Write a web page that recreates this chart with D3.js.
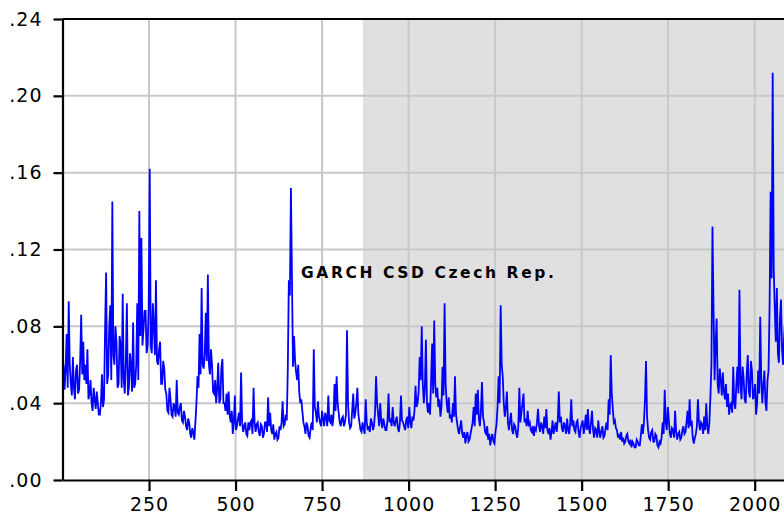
<!DOCTYPE html>
<html>
<head>
<meta charset="utf-8">
<script src="https://cdn.jsdelivr.net/npm/d3@7"></script>
<style>
  body { margin: 0; background: #fff; }
  .garch_chart text { font-family: "DejaVu Sans", Verdana, sans-serif; fill: #000; }
</style>
</head>
<body>
<div class="garch_chart"></div>
<script>
// observation spacing of the sampled series (observations per point)
const obsStep = 3;

const csdValues = [
  .052,.060,.047,.058,.076,.048,.093,.060,.050,.044,.064,.048,.042,.057,.060,.045,.047,.062,.086,.055,
  .072,.052,.060,.050,.068,.042,.045,.052,.040,.036,.048,.042,.037,.046,.040,.034,.034,.040,.055,.038,
  .042,.078,.108,.050,.055,.080,.091,.052,.145,.065,.060,.080,.072,.048,.050,.075,.070,.048,.097,.052,
  .045,.062,.092,.044,.048,.066,.060,.046,.082,.048,.050,.060,.092,.052,.140,.075,.126,.070,.078,.088,
  .088,.066,.070,.090,.162,.070,.066,.092,.080,.065,.104,.062,.060,.068,.072,.050,.050,.062,.058,.047,
  .045,.036,.035,.048,.042,.034,.033,.040,.038,.033,.052,.035,.034,.038,.040,.031,.030,.036,.033,.028,
  .026,.032,.030,.024,.022,.027,.025,.021,.030,.040,.054,.048,.076,.055,.100,.060,.058,.065,.087,.062,
  .107,.060,.055,.068,.060,.046,.045,.052,.040,.048,.061,.040,.042,.058,.063,.040,.040,.036,.045,.034,
  .046,.034,.030,.036,.024,.030,.044,.026,.028,.032,.035,.028,.056,.030,.025,.028,.030,.024,.023,.030,
  .026,.030,.031,.024,.048,.030,.025,.029,.030,.025,.023,.029,.028,.022,.024,.030,.030,.025,.043,.028,
  .035,.026,.024,.029,.021,.024,.025,.021,.022,.028,.026,.030,.041,.028,.029,.034,.031,.058,.104,.096,
  .152,.105,.059,.075,.062,.056,.052,.060,.046,.040,.042,.036,.030,.028,.024,.030,.028,.023,.022,.027,
  .030,.026,.068,.038,.035,.030,.041,.033,.030,.028,.036,.032,.028,.035,.033,.028,.044,.031,.030,.034,
  .028,.033,.050,.036,.054,.040,.035,.030,.028,.032,.033,.028,.030,.034,.078,.040,.030,.027,.028,.036,
  .045,.032,.035,.040,.048,.034,.030,.026,.025,.030,.027,.024,.042,.030,.026,.028,.025,.032,.030,.026,
  .028,.035,.054,.040,.034,.028,.040,.031,.027,.032,.029,.026,.026,.031,.045,.030,.032,.028,.038,.030,
  .028,.031,.033,.027,.025,.030,.044,.031,.030,.028,.026,.031,.033,.027,.038,.030,.027,.033,.031,.036,
  .049,.038,.040,.046,.064,.052,.080,.050,.040,.048,.073,.040,.035,.040,.034,.052,.071,.045,.083,.050,
  .043,.048,.038,.042,.033,.038,.059,.044,.092,.050,.040,.035,.043,.032,.034,.030,.040,.033,.054,.034,
  .030,.026,.024,.028,.031,.024,.022,.025,.019,.023,.025,.020,.021,.024,.027,.030,.038,.028,.045,.034,
  .047,.032,.028,.036,.051,.033,.030,.025,.024,.028,.021,.024,.018,.022,.024,.020,.019,.025,.029,.038,
  .054,.040,.091,.060,.054,.040,.033,.038,.046,.030,.026,.031,.035,.026,.024,.029,.028,.024,.022,.028,
  .048,.030,.035,.040,.045,.030,.032,.028,.036,.029,.030,.026,.025,.028,.023,.027,.026,.030,.037,.028,
  .025,.030,.028,.024,.033,.027,.037,.026,.024,.027,.021,.025,.031,.024,.027,.030,.025,.031,.046,.030,
  .033,.027,.025,.030,.028,.024,.032,.026,.024,.030,.042,.028,.031,.026,.025,.030,.031,.025,.022,.027,
  .029,.031,.024,.028,.034,.026,.037,.027,.024,.030,.036,.026,.022,.027,.026,.022,.031,.025,.022,.026,
  .028,.022,.023,.027,.030,.026,.042,.034,.065,.045,.037,.030,.031,.027,.026,.022,.024,.021,.025,.020,
  .022,.019,.020,.023,.024,.020,.019,.021,.017,.020,.019,.017,.017,.021,.020,.018,.018,.023,.029,.024,
  .030,.042,.062,.033,.026,.022,.021,.025,.026,.020,.020,.024,.023,.018,.017,.020,.019,.022,.030,.024,
  .047,.030,.026,.038,.031,.024,.022,.027,.026,.022,.036,.025,.021,.024,.025,.021,.022,.026,.028,.024,
  .025,.030,.036,.027,.042,.028,.031,.022,.019,.022,.024,.028,.042,.030,.026,.030,.029,.024,.033,.026,
  .040,.028,.024,.030,.043,.060,.132,.090,.052,.070,.084,.050,.045,.058,.052,.044,.056,.046,.042,.050,
  .038,.045,.034,.039,.040,.035,.059,.040,.037,.050,.059,.045,.099,.050,.042,.059,.053,.042,.040,.055,
  .065,.046,.043,.062,.057,.042,.044,.050,.034,.040,.057,.045,.085,.052,.040,.050,.057,.040,.036,.052,
  .057,.090,.150,.105,.212,.110,.089,.072,.100,.066,.061,.084,.094,.068,.060,.075,.084
];

const xTicks = [250, 500, 750, 1000, 1250, 1500, 1750, 2000];
const yTicks = [0, .04, .08, .12, .16, .20, .24];
const yTickLabels = [".00", ".04", ".08", ".12", ".16", ".20", ".24"];
const shadeStart = 868;
const xMax = 2100;
const seriesLabel = "GARCH CSD Czech Rep.";

const width = 784;
const height = 517;
const margin = { top: 19, left: 62.5, bottom: 37 };

const xScale = d3.scaleLinear()
    .domain([0, xMax])
    .range([margin.left, margin.left + xMax * 0.3461]);

const yScale = d3.scaleLinear()
    .domain([0, .24])
    .range([height - margin.bottom, margin.top]);

const svg = d3.select('.garch_chart')
    .append('svg')
    .attr('width', width)
    .attr('height', height);

svg.append('defs').append('clipPath')
    .attr('id', 'plotClip')
    .append('rect')
    .attr('x', xScale(0))
    .attr('y', yScale(.24))
    .attr('width', xScale(xMax) - xScale(0))
    .attr('height', yScale(0) - yScale(.24));

// shaded sample
svg.append('rect')
    .attr('x', xScale(shadeStart))
    .attr('y', yScale(.24))
    .attr('width', xScale(xMax) - xScale(shadeStart))
    .attr('height', yScale(0) - yScale(.24))
    .attr('fill', '#e0e0e0');

// grid
svg.append('g')
    .selectAll('line')
    .data(xTicks)
    .enter()
    .append('line')
    .attr('x1', d => xScale(d))
    .attr('x2', d => xScale(d))
    .attr('y1', yScale(.24))
    .attr('y2', yScale(0))
    .attr('stroke', '#c8c8c8')
    .attr('stroke-width', 2);

svg.append('g')
    .selectAll('line')
    .data(yTicks.slice(1, -1))
    .enter()
    .append('line')
    .attr('x1', xScale(0))
    .attr('x2', xScale(xMax))
    .attr('y1', d => yScale(d))
    .attr('y2', d => yScale(d))
    .attr('stroke', '#c8c8c8')
    .attr('stroke-width', 2);

// series
const line = d3.line()
    .x((d, i) => xScale(i * obsStep))
    .y(d => yScale(d));

svg.append('path')
    .datum(csdValues)
    .attr('clip-path', 'url(#plotClip)')
    .attr('fill', 'none')
    .attr('stroke', '#0000ff')
    .attr('stroke-width', 1.8)
    .attr('d', line);

// axes
const yAxis = svg.append('g')
    .attr('transform', `translate(${margin.left}, 0)`)
    .call(d3.axisLeft(yScale)
        .tickValues(yTicks)
        .tickFormat((d, i) => yTickLabels[i])
        .tickSize(9)
        .tickSizeOuter(0)
        .tickPadding(11));

const xAxis = svg.append('g')
    .attr('transform', `translate(0, ${yScale(0)})`)
    .call(d3.axisBottom(xScale)
        .tickValues(xTicks)
        .tickFormat(d3.format('d'))
        .tickSize(11)
        .tickSizeOuter(0)
        .tickPadding(7));

// top frame
svg.append('line')
    .attr('x1', xScale(0))
    .attr('x2', xScale(xMax))
    .attr('y1', yScale(.24))
    .attr('y2', yScale(.24))
    .attr('stroke', '#000')
    .attr('stroke-width', 2);

[yAxis, xAxis].forEach(ax => {
    ax.selectAll('.domain').attr('stroke', '#000').attr('stroke-width', 2.2);
    ax.selectAll('.tick line').attr('stroke', '#000').attr('stroke-width', 2.2);
    ax.selectAll('.tick text')
        .style('font-size', '19px')
        .style('letter-spacing', '1px')
        .attr('fill', '#000');
});

svg.append('text')
    .attr('x', 301)
    .attr('y', 277.5)
    .style('font-size', '15.5px')
    .style('font-weight', 'bold')
    .style('letter-spacing', '2.6px')
    .text(seriesLabel);
</script>
</body>
</html>
